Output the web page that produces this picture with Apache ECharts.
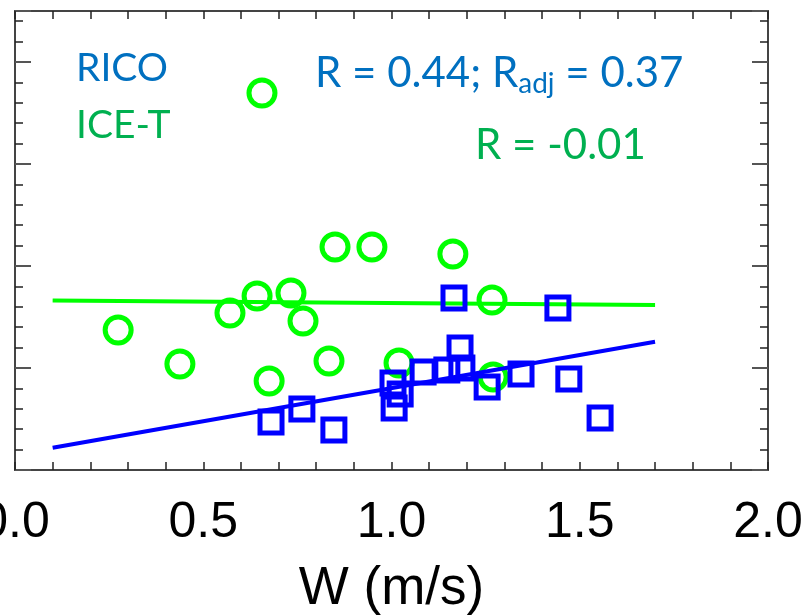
<!DOCTYPE html>
<html><head><meta charset="utf-8">
<script src="https://cdn.jsdelivr.net/npm/echarts@6/dist/echarts.min.js"></script>
<style>html,body{margin:0;padding:0;background:#fff}#c{width:807px;height:616px}</style>
</head><body><div id="c"></div>
<script>
// ---- data ----
const xTickLabels = ['0.0', '0.5', '1.0', '1.5', '2.0'];
const iceX = [0.274, 0.438, 0.571, 0.643, 0.656, 0.675, 0.733, 0.765, 0.834, 0.850, 0.948, 1.020, 1.163, 1.267, 1.270];
const iceY = [1.373, 1.039, 1.539, 1.706, 3.696, 0.873, 1.735, 1.461, 1.069, 2.186, 2.186, 1.049, 2.118, 1.667, 0.912];
const ricoX = [0.680, 0.762, 0.847, 1.004, 1.023, 1.007, 1.084, 1.147, 1.187, 1.182, 1.166, 1.254, 1.344, 1.442, 1.471, 1.554];
const ricoY = [0.471, 0.598, 0.392, 0.853, 0.745, 0.608, 0.961, 0.980, 1.000, 1.196, 1.686, 0.814, 0.941, 1.588, 0.892, 0.510];
const iceFitX = [0.1, 1.7];
const iceFitY = [1.662, 1.618];
const ricoFitX = [0.1, 1.7];
const ricoFitY = [0.219, 1.257];

const zip = (a, b) => a.map((v, i) => [v, b[i]]);
const frame = { color: '#444', width: 2 };
const minorStyle = { color: '#222', width: 1.5 };
const majorStyle = { color: '#555', width: 2 };

function xAxis(pos, showLabel) {
  return {
    type: 'value', position: pos, min: 0, max: 2, interval: 0.5,
    axisLine: { show: true, onZero: false, lineStyle: frame },
    axisTick: { show: true, inside: true, length: 8, lineStyle: minorStyle },
    minorTick: { show: true, splitNumber: 5, length: 8, lineStyle: minorStyle },
    splitLine: { show: false },
    axisLabel: {
      show: showLabel, margin: 28, fontFamily: 'Liberation Sans', fontSize: 50, color: '#000',
      formatter: v => xTickLabels[Math.round(v / 0.5)]
    },
    name: showLabel ? 'W (m/s)' : '', nameLocation: 'middle', nameGap: 93,
    nameTextStyle: { fontFamily: 'Liberation Sans', fontSize: 53, color: '#000' }
  };
}
function yAxis(pos, interval, len, style) {
  return {
    type: 'value', position: pos, min: 0, max: 4.5, interval: interval,
    axisLine: { show: true, onZero: false, lineStyle: frame },
    axisTick: { show: true, inside: true, length: len, lineStyle: style },
    splitLine: { show: false }, axisLabel: { show: false }
  };
}

const chart = echarts.init(document.getElementById('c'), null, { renderer: 'canvas' });
chart.setOption({
  animation: false,
  grid: { left: 15, right: 39, top: 11, bottom: 146, containLabel: false, outerBoundsMode: 'none' },
  xAxis: [xAxis('bottom', true), xAxis('top', false)],
  yAxis: [
    yAxis('left', 0.2, 8, minorStyle), yAxis('left', 1, 16, majorStyle),
    yAxis('right', 0.2, 8, minorStyle), yAxis('right', 1, 16, majorStyle)
  ],
  series: [
    { name: 'ICE-T', type: 'scatter', data: zip(iceX, iceY), symbol: 'circle', symbolSize: 26,
      itemStyle: { color: 'transparent', borderColor: '#00FF00', borderWidth: 5, opacity: 1 }, z: 2 },
    { type: 'line', data: zip(iceFitX, iceFitY), showSymbol: false,
      lineStyle: { color: '#00FF00', width: 4 }, z: 3 },
    { name: 'RICO', type: 'scatter', data: zip(ricoX, ricoY), symbol: 'rect', symbolSize: 22,
      itemStyle: { color: 'transparent', borderColor: '#0000FF', borderWidth: 5, opacity: 1 }, z: 4 },
    { type: 'line', data: zip(ricoFitX, ricoFitY), showSymbol: false,
      lineStyle: { color: '#0000FF', width: 4 }, z: 5 }
  ],
  graphic: [
    { type: 'text', left: 76, top: 49, style: { text: 'RICO', fontFamily: 'Lato', fontSize: 39, fill: '#0070C0' } },
    { type: 'text', left: 76, top: 106, style: { text: 'ICE-T', fontFamily: 'Lato', fontSize: 39, fill: '#00B050' } },
    { type: 'text', left: 315, top: 52, style: {
        text: '{a|R = 0.44; R}{s|adj}{a| = 0.37}',
        rich: {
          a: { fontFamily: 'Lato', fontSize: 42, fill: '#0070C0', lineHeight: 46, verticalAlign: 'top' },
          s: { fontFamily: 'Lato', fontSize: 28, fill: '#0070C0', lineHeight: 20, verticalAlign: 'bottom' }
        } } },
    { type: 'text', left: 475, top: 124, style: { text: 'R = -0.01', fontFamily: 'Lato', fontSize: 42, fill: '#00B050' } }
  ]
});
</script>
</body></html>
